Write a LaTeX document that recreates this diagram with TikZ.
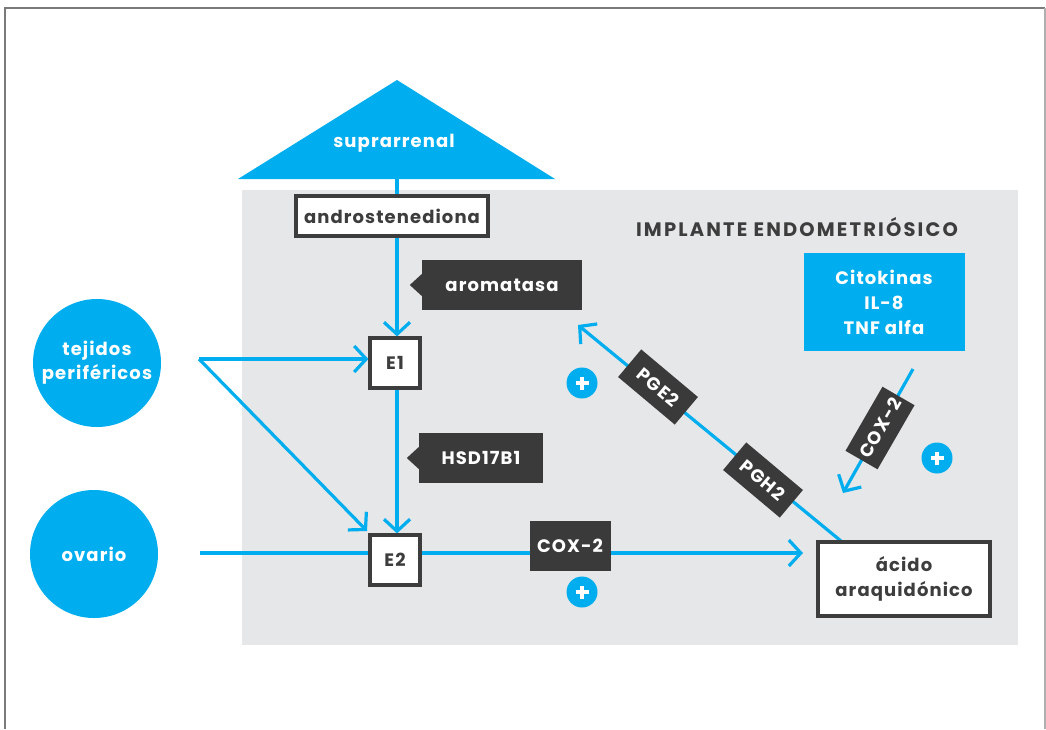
\documentclass[tikz,border=0pt]{standalone}
\usepackage{fontspec}
\setmainfont{Poppins}
\newfontfamily\labelfont{Poppins}[LetterSpace=6]
\newfontfamily\titlefont{Poppins}[LetterSpace=11]
\usetikzlibrary{arrows.meta,backgrounds}
\definecolor{cblue}{HTML}{00AEEF}
\definecolor{panel}{HTML}{E6E7E8}
\definecolor{tagdark}{HTML}{3A3A3A}
\definecolor{ink}{HTML}{3D3D3D}
\definecolor{framegray}{HTML}{7A7A7A}
\begin{document}
\begin{tikzpicture}[x=1pt,y=-1pt,
  font=\labelfont\fontsize{18}{24}\selectfont\bfseries,
  flow/.style={draw=cblue,line width=3.2pt},
  arr/.style={-{Straight Barb[length=12pt,width=26pt]}},
  wbox/.style={draw=ink,line width=3.2pt,fill=white,text=ink,inner sep=0pt,align=center},
  tagbox/.style={fill=tagdark,text=white,inner sep=0pt},
  bluebox/.style={fill=cblue,text=white,inner sep=0pt,align=center},
  source/.style={circle,fill=cblue,text=white,minimum size=128pt,inner sep=0pt,align=center},
  plusmark/.style={circle,fill=cblue,minimum size=31pt,inner sep=0pt,
    path picture={
      \draw[white,line width=3.8pt]
        ([xshift=-6.5pt]path picture bounding box.center) -- ([xshift=6.5pt]path picture bounding box.center)
        ([yshift=-6.5pt]path picture bounding box.center) -- ([yshift=6.5pt]path picture bounding box.center);
    }},
]
\useasboundingbox (0,0) rectangle (1046,729);

% outer frame
\draw[framegray,line width=2pt] (5,729) -- (5,8) -- (1045,8);
\draw[framegray!60,line width=1.2pt] (1045,8) -- (1045,729);

% adrenal gland
\fill[cblue] (238,179) -- (397,80) -- (555,179) -- cycle;
\node[text=white] (supra) at (394,143) {suprarrenal};
\coordinate (supbase) at (397,179);

% implant label
\node[text=ink,font=\titlefont\fontsize{19.5}{24}\selectfont\bfseries] (title) at (797,227) {IMPLANTE ENDOMETRIÓSICO};

% boxes
\node[wbox,minimum width=192pt,minimum height=40pt] (andro) at (392,216) {androstenediona};
\node[wbox,minimum width=50pt,minimum height=50pt] (E1) at (395,363) {E1};
\node[wbox,minimum width=50pt,minimum height=50pt] (E2) at (395,560) {E2};
\node[wbox,minimum width=172pt,minimum height=74pt,font=\labelfont\fontsize{18}{25}\selectfont\bfseries] (acido) at (904,579) {ácido\\araquidónico};
\node[bluebox,minimum width=161pt,minimum height=98pt,font=\labelfont\fontsize{18}{25}\selectfont\bfseries] (cyto) at (884,302) {Citokinas\\IL-8\\TNF alfa};

% sources
\node[source] (tejidos) at (97,363) {tejidos\\periféricos};
\node[source] (ovario) at (94,554) {ovario};
\coordinate (tj) at (199,359);
\coordinate (ov) at (200,553);

% enzyme tags
\node[tagbox,minimum width=160pt,minimum height=50pt] (arom) at (502,285) {aromatasa};
\fill[tagdark] ([yshift=11pt]arom.west) -- ++(-12,11) -- ++(12,11) -- cycle;
\node[tagbox,minimum width=124pt,minimum height=50pt] (hsd) at (481,458) {HSD17B1};
\fill[tagdark] ([yshift=11pt]hsd.west) -- ++(-12,11) -- ++(12,11) -- cycle;
\node[tagbox,minimum width=81pt,minimum height=50pt] (coxa) at (570,546) {COX-2};
\node[tagbox,minimum width=74pt,minimum height=36pt,rotate=-40] (pge) at (658,387) {PGE2};
\node[tagbox,minimum width=74pt,minimum height=36pt,rotate=-40] (pgh) at (763,480) {PGH2};
\node[tagbox,minimum width=74pt,minimum height=37pt,rotate=60] (coxb) at (880,428) {COX-2};

% stimulation marks
\node[plusmark] (p1) at (582,383) {};
\node[plusmark] (p2) at (582,592) {};
\node[plusmark] (p3) at (937,458) {};

% free ends of connectors
\coordinate (e2in) at (367,531);
\coordinate (acin) at (803,553);
\coordinate (acout) at (841,541);
\coordinate (pgtip) at (578,325);
\coordinate (cyout) at (913,369);
\coordinate (cytip) at (843,493);

\begin{scope}[on background layer]
  \fill[panel] (242,190) rectangle (1018,645);
  \draw[flow] (supbase) -- (supbase |- andro.north);
  \draw[flow,arr] (supbase |- andro.south) -- (supbase |- E1.north);
  \draw[flow,arr] (supbase |- E1.south) -- (supbase |- E2.north);
  \draw[flow,arr] (tj) -- (tj -| E1.west);
  \draw[flow,arr] (tj) -- (e2in);
  \draw[flow] (ov) -- (ov -| E2.west);
  \draw[flow,arr] (ov -| E2.east) -- (acin);
  \draw[flow,arr] (acout) -- (pgtip);
  \draw[flow,arr] (cyout) -- (cytip);
\end{scope}
\end{tikzpicture}
\end{document}
